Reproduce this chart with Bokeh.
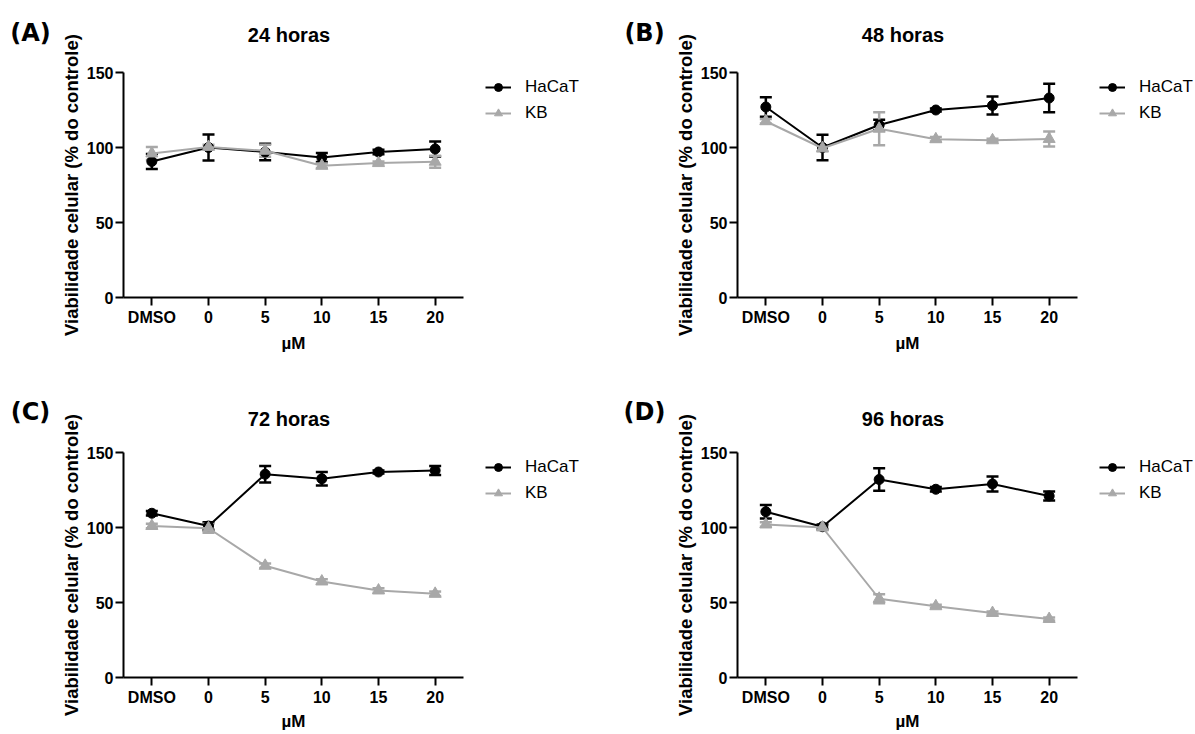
from bokeh.plotting import figure
from bokeh.models import (Range1d, FixedTicker, Whisker, TeeHead,
                          ColumnDataSource, Legend, LegendItem, Label)
from bokeh.layouts import gridplot
from bokeh.embed import file_html
from bokeh.resources import INLINE

# ---------------- data ----------------
categories = ["DMSO", "0", "5", "10", "15", "20"]
titles = ["24 horas", "48 horas", "72 horas", "96 horas"]
panel_labels = ["(A)", "(B)", "(C)", "(D)"]
y_ticks = [0, 50, 100, 150]
series_names = ["HaCaT", "KB"]
y_label = "Viabilidade celular (% do controle)"
x_label = "µM"

hacat_24 = [90.7, 100.0, 97.0, 93.3, 97.0, 99.0]
hacat_24_err = [5.0, 8.7, 5.5, 3.0, 1.5, 5.0]
kb_24 = [96.0, 100.4, 97.8, 87.8, 89.6, 90.5]
kb_24_err = [4.4, 1.5, 4.0, 1.5, 1.0, 4.0]

hacat_48 = [127.0, 100.0, 115.0, 125.0, 128.0, 133.0]
hacat_48_err = [6.5, 8.5, 3.5, 1.0, 6.0, 9.5]
kb_48 = [117.5, 99.5, 112.5, 105.5, 104.8, 105.7]
kb_48_err = [1.5, 2.0, 11.0, 1.5, 1.0, 5.0]

hacat_72 = [109.5, 101.0, 135.5, 132.5, 137.0, 138.0]
hacat_72_err = [1.5, 2.5, 5.5, 4.5, 1.0, 3.0]
kb_72 = [101.0, 99.5, 74.5, 64.0, 58.0, 55.8]
kb_72_err = [1.5, 3.0, 1.5, 1.5, 1.5, 1.5]

hacat_96 = [110.5, 100.5, 132.0, 125.5, 129.0, 121.0]
hacat_96_err = [4.5, 1.5, 7.5, 1.5, 5.0, 3.0]
kb_96 = [102.0, 100.0, 52.5, 47.5, 43.0, 39.0]
kb_96_err = [1.5, 1.0, 3.0, 1.0, 1.0, 1.0]

# ---------------- layout (pixels) ----------------
FIG_W = [605, 590]          # column widths
FIG_H = [373, 361]          # row heights
AXIS_X = [123, 132]         # local x of the y axis, per column
AXIS_TOP = [72, 79]         # local y of value 150, per row
AXIS_BOT = [297, 304]       # local y of value 0, per row
PX_PER_CAT = 340.0 / 6
TITLE_BASE = [34, 45]       # local baseline of the panel title, per row
TAG_MID = [32, 38]          # local centre of "(A)" etc., per row
XLABEL_STANDOFF = [5, 3]    # per row

BLACK = "#000000"
GRAY = "#a8a8a8"
FONT = "Liberation Sans"
TAG_FONT = "DejaVu Sans"


def make_panel(idx, hacat, hacat_err, kb, kb_err):
    r, c = divmod(idx, 2)
    W, H = FIG_W[c], FIG_H[r]
    px_per_y = (AXIS_BOT[r] - AXIS_TOP[r]) / 150.0
    x0 = -0.5 - AXIS_X[c] / PX_PER_CAT
    x1 = x0 + W / PX_PER_CAT
    y1 = 150 + AXIS_TOP[r] / px_per_y
    y0 = -(H - AXIS_BOT[r]) / px_per_y

    p = figure(x_range=Range1d(x0, x1), y_range=Range1d(y0, y1),
               width=W, height=H, output_backend="svg",
               toolbar_location=None, min_border=0, min_border_left=0,
               min_border_right=0, min_border_top=0, min_border_bottom=0)
    p.xgrid.visible = False
    p.ygrid.visible = False
    p.outline_line_color = None
    p.background_fill_color = "white"
    p.border_fill_color = "white"

    xpos = list(range(len(categories)))

    for ax in (p.xaxis[0], p.yaxis[0]):
        ax.axis_line_width = 2
        ax.axis_line_color = BLACK
        ax.major_tick_line_width = 2
        ax.major_tick_line_color = BLACK
        ax.major_tick_out = 8
        ax.major_tick_in = 0
        ax.minor_tick_out = 0
        ax.minor_tick_in = 0
        ax.major_label_text_font = FONT
        ax.major_label_text_font_size = "16px"
        ax.major_label_text_font_style = "bold"
        ax.major_label_text_color = BLACK
        ax.axis_label_text_font = FONT
        ax.axis_label_text_font_style = "bold"
        ax.axis_label_text_color = BLACK

    p.yaxis.ticker = FixedTicker(ticks=y_ticks)
    p.yaxis.bounds = (0, 150)
    p.yaxis.fixed_location = -0.5
    p.yaxis.major_label_standoff = 2
    p.yaxis.axis_label = y_label
    p.yaxis.axis_label_text_font_size = "18.5px"
    p.yaxis.axis_label_standoff = 2

    p.xaxis.ticker = FixedTicker(ticks=xpos)
    p.xaxis.major_label_overrides = {i: cat for i, cat in zip(xpos, categories)}
    p.xaxis.bounds = (-0.5, len(categories) - 0.5)
    p.xaxis.fixed_location = 0
    p.xaxis.major_label_standoff = 3
    p.xaxis.axis_label = x_label
    p.xaxis.axis_label_text_font_size = "17px"
    p.xaxis.axis_label_standoff = XLABEL_STANDOFF[r]

    items = []
    specs = [(series_names[0], hacat, hacat_err, BLACK, "circle", 10),
             (series_names[1], kb, kb_err, GRAY, "triangle", 12)]
    for name, vals, errs, col, marker, size in specs:
        src = ColumnDataSource(dict(
            x=xpos, y=vals,
            upper=[v + e for v, e in zip(vals, errs)],
            lower=[v - e for v, e in zip(vals, errs)]))
        w = Whisker(base="x", upper="upper", lower="lower", source=src,
                    dimension="height", line_color=col, line_width=2.5,
                    upper_head=TeeHead(size=12, line_color=col, line_width=2.5),
                    lower_head=TeeHead(size=12, line_color=col, line_width=2.5))
        p.add_layout(w)
        lr = p.line(x="x", y="y", source=src, line_color=col, line_width=2)
        sr = p.scatter(x="x", y="y", source=src, marker=marker, size=size,
                       fill_color=col, line_color=col)
        items.append(LegendItem(label=name, renderers=[lr, sr]))

    leg = Legend(items=items,
                 location=(AXIS_X[c] + 362, H - (AXIS_TOP[r] + 5 + 46)),
                 padding=0, margin=0, spacing=6, glyph_width=26,
                 glyph_height=20, label_height=20, label_standoff=14,
                 border_line_color=None, background_fill_alpha=0,
                 label_text_font=FONT, label_text_font_size="17px",
                 label_text_color=BLACK)
    p.add_layout(leg)

    p.add_layout(Label(x=AXIS_X[c] + 165.5, y=H - TITLE_BASE[r],
                       x_units="screen", y_units="screen", text=titles[idx],
                       text_font=FONT, text_font_size="20px",
                       text_font_style="bold", text_align="center",
                       text_baseline="alphabetic", text_color=BLACK))
    p.add_layout(Label(x=AXIS_X[c] - 93, y=H - TAG_MID[r],
                       x_units="screen", y_units="screen",
                       text=panel_labels[idx], text_font=TAG_FONT,
                       text_font_size="24px", text_font_style="bold",
                       text_align="center", text_baseline="middle",
                       text_color=BLACK))
    return p


pA = make_panel(0, hacat_24, hacat_24_err, kb_24, kb_24_err)
pB = make_panel(1, hacat_48, hacat_48_err, kb_48, kb_48_err)
pC = make_panel(2, hacat_72, hacat_72_err, kb_72, kb_72_err)
pD = make_panel(3, hacat_96, hacat_96_err, kb_96, kb_96_err)

grid = gridplot([[pA, pB], [pC, pD]], toolbar_location=None)

open("out.html", "w").write(file_html(grid, INLINE))
